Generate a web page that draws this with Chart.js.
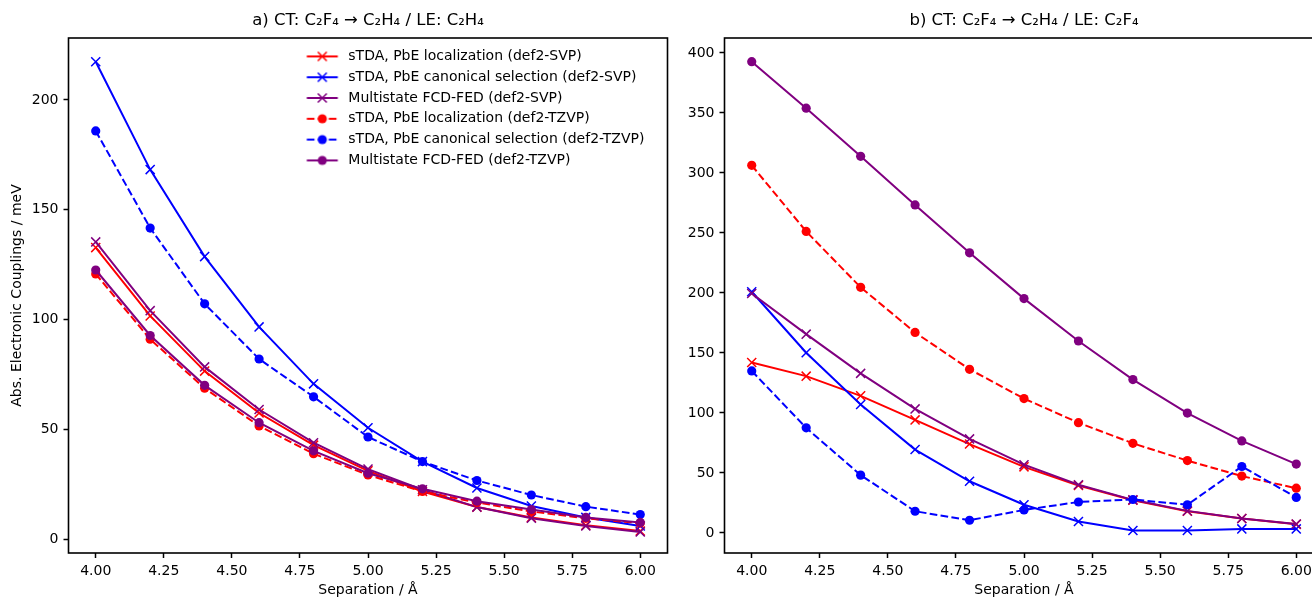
<!DOCTYPE html>
<html>
<head>
<meta charset="utf-8">
<script src="https://cdn.jsdelivr.net/npm/chart.js@4"></script>
<style>
  html, body { margin: 0; padding: 0; background: #fff; overflow: hidden; width: 1312px; height: 600px; }
  #chartA { position: absolute; left: 0; top: 0; }
  #chartB { position: absolute; left: 680px; top: 0; }
</style>
</head>
<body>
<canvas id="chartA" width="680" height="600"></canvas>
<canvas id="chartB" width="660" height="600"></canvas>
<script>
// separations in Angstrom
const separations = [4.0, 4.2, 4.4, 4.6, 4.8, 5.0, 5.2, 5.4, 5.6, 5.8, 6.0];

const seriesNames = [
  'sTDA, PbE localization (def2-SVP)',
  'sTDA, PbE canonical selection (def2-SVP)',
  'Multistate FCD-FED (def2-SVP)',
  'sTDA, PbE localization (def2-TZVP)',
  'sTDA, PbE canonical selection (def2-TZVP)',
  'Multistate FCD-FED (def2-TZVP)'
];
const seriesColors = ['red', 'blue', 'purple', 'red', 'blue', 'purple'];
const seriesDashed = [false, false, false, true, true, false];
const seriesMarker = ['x', 'x', 'x', 'o', 'o', 'o'];

// a) LE on C2H4, couplings in meV
const aLocSVP = [132.8, 101.7, 76.6, 57.5, 42.9, 31.2, 21.8, 14.7, 10.0, 6.4, 3.8];
const aCanSVP = [217.4, 168.3, 128.7, 96.7, 70.8, 50.8, 35.4, 23.4, 15.2, 10.0, 6.1];
const aFcdSVP = [135.4, 104.1, 78.5, 59.1, 44.0, 32.0, 22.6, 14.7, 9.6, 6.1, 3.4];
const aLocTZVP = [120.8, 91.1, 68.8, 51.6, 39.0, 29.3, 21.8, 16.8, 12.7, 9.6, 7.4];
const aCanTZVP = [185.9, 141.7, 107.2, 82.1, 64.9, 46.6, 35.4, 26.8, 20.2, 14.9, 11.3];
const aFcdTZVP = [122.6, 92.8, 70.1, 53.1, 40.3, 30.1, 23.0, 17.4, 13.6, 10.0, 7.7];

// b) LE on C2F4
const bLocSVP = [142.1, 130.7, 114.3, 94.2, 74.1, 55.1, 39.6, 27.3, 18.1, 12.1, 7.2];
const bCanSVP = [201.0, 150.2, 107.1, 69.5, 43.1, 23.5, 9.5, 2.0, 2.0, 3.4, 3.4];
const bFcdSVP = [199.6, 165.7, 133.0, 103.4, 78.4, 56.9, 40.2, 27.6, 18.4, 12.1, 7.5];
const bLocTZVP = [306.4, 251.3, 204.7, 167.1, 136.4, 112.0, 91.9, 74.7, 60.3, 47.4, 37.3];
const bCanTZVP = [135.0, 87.6, 48.2, 18.1, 10.6, 19.2, 25.8, 27.9, 23.5, 55.4, 29.6];
const bFcdTZVP = [392.8, 354.0, 313.9, 273.4, 233.5, 195.3, 160.0, 127.8, 99.9, 76.7, 57.4];

const xTicks = [4.0, 4.25, 4.5, 4.75, 5.0, 5.25, 5.5, 5.75, 6.0];

Chart.defaults.font.family = '"DejaVu Sans", sans-serif';
Chart.defaults.font.size = 14;
Chart.defaults.color = '#000';

function makeDatasets(values) {
  return values.map((vals, i) => ({
    label: seriesNames[i],
    data: vals.map((v, j) => ({ x: separations[j], y: v })),
    borderColor: seriesColors[i],
    backgroundColor: seriesColors[i],
    borderWidth: 2,
    borderDash: seriesDashed[i] ? [7.7, 3.3] : [],
    tension: 0,
    fill: false,
    pointStyle: seriesMarker[i] === 'x' ? 'crossRot' : 'circle',
    pointRadius: seriesMarker[i] === 'x' ? 6.4 : 4.6,
    pointBorderWidth: seriesMarker[i] === 'x' ? 1.5 : 0,
    pointBorderColor: seriesColors[i],
    pointBackgroundColor: seriesColors[i],
    order: values.length - i
  }));
}

function legendIcon(i) {
  const c = document.createElement('canvas');
  c.width = 38; c.height = 14;
  const g = c.getContext('2d');
  g.strokeStyle = seriesColors[i];
  g.fillStyle = seriesColors[i];
  g.lineWidth = 2;
  if (seriesDashed[i]) g.setLineDash([7.7, 3.3]);
  g.beginPath(); g.moveTo(3.5, 7); g.lineTo(34.5, 7); g.stroke();
  g.setLineDash([]);
  if (seriesMarker[i] === 'x') {
    g.lineWidth = 1.5;
    g.beginPath();
    g.moveTo(19 - 4.5, 7 - 4.5); g.lineTo(19 + 4.5, 7 + 4.5);
    g.moveTo(19 + 4.5, 7 - 4.5); g.lineTo(19 - 4.5, 7 + 4.5);
    g.stroke();
  } else {
    g.beginPath(); g.arc(19, 7, 4.6, 0, Math.PI * 2); g.fill();
  }
  return c;
}

// black box round the plot area, like matplotlib spines
const frame = {
  id: 'frame',
  afterDatasetsDraw(chart) {
    const { ctx, chartArea: a } = chart;
    ctx.save();
    ctx.strokeStyle = '#000';
    ctx.lineWidth = 1.6;
    ctx.strokeRect(a.left, a.top, a.right - a.left, a.bottom - a.top);
    ctx.restore();
  }
};

// put the legend in the upper right of the plot area
const legendPlacer = {
  id: 'legendPlacer',
  afterLayout(chart) {
    const lg = chart.legend;
    if (!lg || !lg.options.display) return;
    const w = lg.width, h = lg.height;
    lg.left = 296.5; lg.right = lg.left + w;
    lg.top = 42.6; lg.bottom = lg.top + h;
  }
};

function makeChart(id, title, values, opts) {
  return new Chart(document.getElementById(id), {
    type: 'line',
    data: { datasets: makeDatasets(values) },
    options: {
      responsive: false,
      animation: false,
      layout: { padding: { left: 0, right: opts.padRight, top: 0, bottom: 0 } },
      scales: {
        x: {
          type: 'linear',
          min: 3.9,
          max: 6.1,
          afterBuildTicks: s => { s.ticks = xTicks.map(v => ({ value: v })); },
          ticks: { padding: 5, callback: v => Number(v).toFixed(2) },
          grid: { drawOnChartArea: false, tickLength: 5, tickWidth: 1.5, tickColor: '#000' },
          border: { display: false },
          title: { display: true, text: 'Separation / Å', padding: { top: 0, bottom: 1.5 } },
          afterFit: s => { s.height = 47; }
        },
        y: {
          type: 'linear',
          min: opts.yMin,
          max: opts.yMax,
          ticks: { stepSize: 50, includeBounds: false, padding: 5 },
          grid: { drawOnChartArea: false, tickLength: 5, tickWidth: 1.5, tickColor: '#000' },
          border: { display: false },
          title: { display: opts.yTitle, text: 'Abs. Electronic Couplings / meV', padding: { top: 9, bottom: 0 } },
          afterFit: s => { s.width = opts.yWidth; }
        }
      },
      plugins: {
        title: {
          display: true,
          text: title,
          fullSize: false,
          font: { size: 16.5, weight: 'normal' },
          padding: { top: 10.6, bottom: 7.6 }
        },
        legend: {
          display: opts.legend,
          position: 'chartArea',
          align: 'start',
          labels: {
            usePointStyle: true,
            pointStyleWidth: 38,
            padding: 6.8,
            font: { size: 14 },
            generateLabels: chart => chart.data.datasets.map((ds, i) => ({
              text: ds.label,
              pointStyle: legendIcon(i),
              fillStyle: ds.borderColor,
              strokeStyle: ds.borderColor,
              lineWidth: 0,
              hidden: false,
              datasetIndex: i
            }))
          }
        },
        tooltip: { enabled: false }
      }
    },
    plugins: [frame, legendPlacer]
  });
}

makeChart('chartA', 'a) CT: C₂F₄ → C₂H₄ / LE: C₂H₄',
  [aLocSVP, aCanSVP, aFcdSVP, aLocTZVP, aCanTZVP, aFcdTZVP],
  { yMin: -6.2, yMax: 228.2, yWidth: 68.5, padRight: 12.5, yTitle: true, legend: true });

makeChart('chartB', 'b) CT: C₂F₄ → C₂H₄ / LE: C₂F₄',
  [bLocSVP, bCanSVP, bFcdSVP, bLocTZVP, bCanTZVP, bFcdTZVP],
  { yMin: -16.7, yMax: 412.5, yWidth: 44.5, padRight: 16.5, yTitle: false, legend: false });
</script>
</body>
</html>
